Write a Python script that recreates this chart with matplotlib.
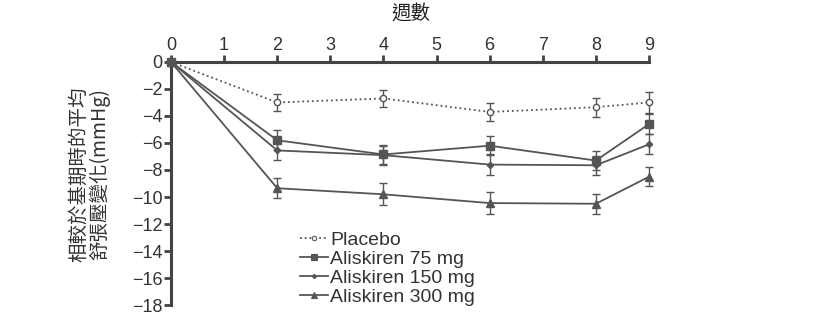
import matplotlib
matplotlib.use("Agg")
import matplotlib.pyplot as plt
from matplotlib.lines import Line2D

plt.rcParams['font.family'] = ['Liberation Sans', 'Noto Sans CJK TC', 'DejaVu Sans']

weeks = [0, 2, 4, 6, 8, 9]
placebo = [0, -3.0, -2.7, -3.7, -3.35, -3.0]
placebo_err = [0, 0.6, 0.65, 0.65, 0.7, 0.75]
ali75 = [0, -5.8, -6.85, -6.2, -7.3, -4.6]
ali75_err = [0, 0.75, 0.7, 0.7, 0.7, 0.75]
ali150 = [0, -6.55, -6.9, -7.6, -7.65, -6.1]
ali150_err = [0, 0.7, 0.7, 0.75, 0.7, 0.75]
ali300 = [0, -9.35, -9.8, -10.45, -10.5, -8.5]
ali300_err = [0, 0.75, 0.8, 0.8, 0.75, 0.7]
labels = ['Placebo', 'Aliskiren 75 mg', 'Aliskiren 150 mg', 'Aliskiren 300 mg']

col = '#555555'

fig = plt.figure(figsize=(8.33, 3.21), dpi=100)
ax = fig.add_axes([0.2053, 0.0498, 0.5738, 0.7571])

styles = [
    (placebo, placebo_err, ':', 'o', 4.5, 'white'),
    (ali75, ali75_err, '-', 's', 5.5, col),
    (ali150, ali150_err, '-', 'D', 3.2, col),
    (ali300, ali300_err, '-', '^', 5.5, col),
]
handles = []
for (vals, err, ls, mk, ms, mfc), lab in zip(styles, labels):
    ax.errorbar(weeks, vals, yerr=err, color=col, ls=ls, lw=1.3, marker=mk,
                ms=ms, mfc=mfc, mec=col, mew=1.0, ecolor=col, elinewidth=1.0,
                capsize=3, capthick=1.0, clip_on=False, zorder=3)
    handles.append(Line2D([], [], color=col, ls=ls, lw=1.3, marker=mk,
                          ms=ms * 0.7, mfc=mfc, mec=col, mew=0.8, label=lab))

ax.set_xlim(0, 9)
ax.set_ylim(-18, 0)
ax.set_xticks(range(0, 10))
ax.set_yticks(range(-18, 1, 2))
ax.xaxis.tick_top()
for s in ['right', 'bottom']:
    ax.spines[s].set_visible(False)
for s in ['left', 'top']:
    ax.spines[s].set_linewidth(2.2)
    ax.spines[s].set_color('#444444')
ax.tick_params(axis='both', direction='out', length=5, width=2, color='#444444',
               labelsize=13, labelcolor='#333333', pad=1)

fig.text(0.493, 0.955, '週數', fontsize=14, color='#222222', ha='center', va='center',
         family=['Noto Sans CJK TC', 'DejaVu Sans'])
ax.set_ylabel('相較於基期時的平均\n舒張壓變化(mmHg)', fontsize=14, color='#333333',
              family=['Noto Sans CJK TC', 'DejaVu Sans'], linespacing=0.95)
ax.yaxis.set_label_coords(-0.128, 0.54)

ax.legend(handles=handles, loc='upper left', bbox_to_anchor=(0.27, 0.305), frameon=False,
          fontsize=14, handlelength=1.45, handletextpad=0.1,
          labelspacing=0.08, borderpad=0, borderaxespad=0, labelcolor='#333333')

fig.savefig('out.png', dpi=100)
